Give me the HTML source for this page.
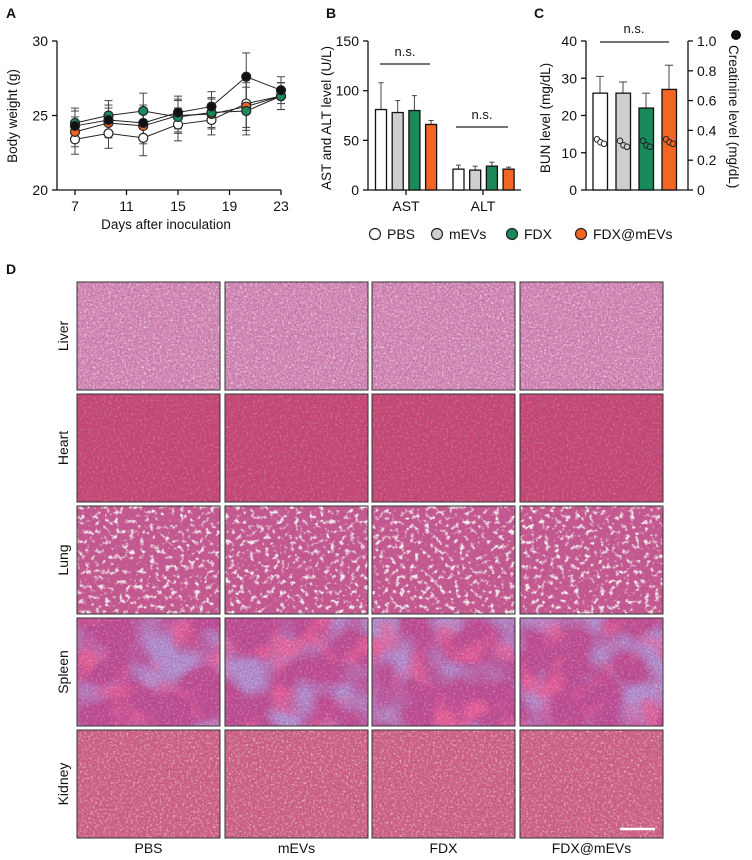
<!DOCTYPE html>
<html><head><meta charset="utf-8"><style>
html,body{margin:0;padding:0;background:#fff;}
svg{display:block;font-family:"Liberation Sans",Arial,sans-serif;}
</style></head><body>
<svg id="fig" width="752" height="860" viewBox="0 0 752 860" xmlns="http://www.w3.org/2000/svg">
<defs>
<filter id="spotsW" x="0" y="0" width="1" height="1" filterUnits="objectBoundingBox">
<feTurbulence type="fractalNoise" baseFrequency="0.45" numOctaves="2" seed="3"/>
<feColorMatrix type="matrix" values="0 0 0 0 1  0 0 0 0 0.95  0 0 0 0 0.95  3 0 0 0 -1.5"/>
</filter>
<filter id="spotsD" x="0" y="0" width="1" height="1" filterUnits="objectBoundingBox">
<feTurbulence type="fractalNoise" baseFrequency="0.6" numOctaves="2" seed="8"/>
<feColorMatrix type="matrix" values="0 0 0 0 0.3  0 0 0 0 0.08  0 0 0 0 0.35  3 0 0 0 -1.4"/>
</filter>
<filter id="lungF" x="0" y="0" width="1" height="1" filterUnits="objectBoundingBox">
<feTurbulence type="fractalNoise" baseFrequency="0.2" numOctaves="2" seed="5"/>
<feColorMatrix type="matrix" values="0 0 0 0 0.97  0 0 0 0 0.92  0 0 0 0 0.88  5 0 0 0 -2.7"/>
</filter>
<filter id="blobF" x="0" y="0" width="1" height="1" filterUnits="objectBoundingBox">
<feTurbulence type="fractalNoise" baseFrequency="0.022" numOctaves="2" seed="11"/>
<feColorMatrix type="matrix" values="0 0 0 0 0.45  0 0 0 0 0.28  0 0 0 0 0.62  4 0 0 0 -1.8"/>
</filter>
<filter id="redF" x="0" y="0" width="1" height="1" filterUnits="objectBoundingBox">
<feTurbulence type="fractalNoise" baseFrequency="0.03" numOctaves="2" seed="21"/>
<feColorMatrix type="matrix" values="0 0 0 0 0.88  0 0 0 0 0.12  0 0 0 0 0.3  4 0 0 0 -2.1"/>
</filter>
</defs>
<g id="root"></g>
</svg>
<script>
// ---- Panel A data ----
const daysA = [7, 9.6, 12.3, 15, 17.6, 20.3, 23];
const blackA = [24.3, 24.7, 24.5, 25.2, 25.6, 27.6, 26.7];
const greenA = [24.5, 25.0, 25.3, 24.9, 25.2, 25.3, 26.3];
const orangeA = [23.9, 24.5, 24.3, 25.0, 25.1, 25.6, 26.3];
const whiteA = [23.4, 23.8, 23.5, 24.4, 24.7, 25.8, 26.3];
const errA = [1.0, 1.0, 1.2, 1.1, 1.0, 1.6, 0.9];
const xTicksA = [7, 11, 15, 19, 23];
const yTicksA = [20, 25, 30];
// ---- Panel B data ----
const groups = ['PBS', 'mEVs', 'FDX', 'FDX@mEVs'];
const astVals = [81, 78, 80, 66];
const astErr = [27, 12, 15, 4];
const altVals = [21, 20, 24, 21];
const altErr = [4, 4, 4, 2];
const yTicksB = [0, 50, 100, 150];
// ---- Panel C data ----
const bunVals = [26, 26, 22, 27];
const bunErr = [4.5, 3, 4, 6.5];
const creat = [[0.34, 0.32, 0.31], [0.33, 0.30, 0.29], [0.33, 0.30, 0.29], [0.34, 0.32, 0.31]];
const yTicksC = [0, 10, 20, 30, 40];
const yTicksC2 = [0, 0.2, 0.4, 0.6, 0.8, 1.0];
const colors = ['#ffffff', '#cfcfcf', '#1b8a5a', '#f26522'];
// ---- Panel D ----
const tissues = ['Liver', 'Heart', 'Lung', 'Spleen', 'Kidney'];

const NS = 'http://www.w3.org/2000/svg';
const root = document.getElementById('root');
function el(tag, attrs, parent) {
  const e = document.createElementNS(NS, tag);
  for (const k in attrs) e.setAttribute(k, attrs[k]);
  (parent || root).appendChild(e);
  return e;
}
function txt(x, y, s, size, anchor, parent, extra) {
  const t = el('text', Object.assign({x: x, y: y, 'font-size': size, 'text-anchor': anchor || 'middle', fill: '#111'}, extra || {}), parent);
  t.textContent = s;
  return t;
}

[['A', 6, 18], ['B', 326, 18], ['C', 534, 18], ['D', 6, 274]].forEach(p => {
  const t = txt(p[1], p[2], p[0], 14, 'start', null, {'font-weight': 'bold'});
  
  
});

// ===== Panel A =====
const gA = el('g', {});


const xA = d => 75 + (d - 7) * (281 - 75) / 16;
const yA = v => 190 - (v - 20) * 14.9;
el('line', {x1: 57, y1: 41, x2: 57, y2: 190, stroke: '#111', 'stroke-width': 1.3}, gA);
el('line', {x1: 57, y1: 190, x2: 281, y2: 190, stroke: '#111', 'stroke-width': 1.3}, gA);
yTicksA.forEach(v => {
  el('line', {x1: 52, y1: yA(v), x2: 57, y2: yA(v), stroke: '#111', 'stroke-width': 1.3}, gA);
  txt(48, yA(v) + 5, String(v), 14, 'end', gA);
});
xTicksA.forEach(v => {
  el('line', {x1: xA(v), y1: 190, x2: xA(v), y2: 195, stroke: '#111', 'stroke-width': 1.3}, gA);
  txt(xA(v), 211, String(v), 14, 'middle', gA);
});
txt(166, 229, 'Days after inoculation', 13.5, 'middle', gA);
const yt = txt(0, 0, 'Body weight (g)', 13.5, 'middle', gA, {transform: 'translate(17,116) rotate(-90)'});


const seriesA = [[whiteA, '#ffffff'], [orangeA, '#f26522'], [greenA, '#1b8a5a'], [blackA, '#111111']];
seriesA.forEach((s, si) => {
  const vals = s[0];
  vals.forEach((v, i) => {
    const x = xA(daysA[i]);
    const e = errA[i];
    el('line', {x1: x, y1: yA(v + e), x2: x, y2: yA(v - e), stroke: '#444', 'stroke-width': 1}, gA);
    el('line', {x1: x - 4, y1: yA(v + e), x2: x + 4, y2: yA(v + e), stroke: '#444', 'stroke-width': 1}, gA);
    el('line', {x1: x - 4, y1: yA(v - e), x2: x + 4, y2: yA(v - e), stroke: '#444', 'stroke-width': 1}, gA);
  });
  const pts = vals.map((v, i) => xA(daysA[i]) + ',' + yA(v)).join(' ');
  el('polyline', {points: pts, fill: 'none', stroke: '#222', 'stroke-width': 1}, gA);
});
seriesA.forEach((s, si) => {
  s[0].forEach((v, i) => {
    const c = el('circle', {cx: xA(daysA[i]), cy: yA(v), r: 4.5, fill: s[1], stroke: '#222', 'stroke-width': 1.2}, gA);
    
    
  });
});

// ===== Panel B =====
const gB = el('g', {});


const yB = v => 190 - v * 149 / 150;
el('line', {x1: 368, y1: 41, x2: 368, y2: 190, stroke: '#111', 'stroke-width': 1.3}, gB);
el('line', {x1: 368, y1: 190, x2: 521, y2: 190, stroke: '#111', 'stroke-width': 1.3}, gB);
yTicksB.forEach(v => {
  el('line', {x1: 363, y1: yB(v), x2: 368, y2: yB(v), stroke: '#111', 'stroke-width': 1.3}, gB);
  txt(359, yB(v) + 5, String(v), 14, 'end', gB);
});
txt(0, 0, 'AST and ALT level (U/L)', 13.5, 'middle', gB, {transform: 'translate(331,118) rotate(-90)'});
function barsB(vals, errs, x0, name) {
  vals.forEach((v, i) => {
    const x = x0 + i * 16.7;
    el('line', {x1: x + 5.5, y1: yB(v), x2: x + 5.5, y2: yB(v + errs[i]), stroke: '#444', 'stroke-width': 1}, gB);
    el('line', {x1: x + 3, y1: yB(v + errs[i]), x2: x + 8, y2: yB(v + errs[i]), stroke: '#444', 'stroke-width': 1}, gB);
    const r = el('rect', {x: x, y: yB(v), width: 11, height: yB(0) - yB(v), fill: colors[i], stroke: '#111', 'stroke-width': 1.3}, gB);
    
    
  });
}
barsB(astVals, astErr, 375.5, 'ast');
barsB(altVals, altErr, 453, 'alt');
el('line', {x1: 406, y1: 190, x2: 406, y2: 195, stroke: '#111', 'stroke-width': 1.3}, gB);
el('line', {x1: 483, y1: 190, x2: 483, y2: 195, stroke: '#111', 'stroke-width': 1.3}, gB);
txt(406, 211, 'AST', 14, 'middle', gB);
txt(483, 211, 'ALT', 14, 'middle', gB);
el('line', {x1: 380, y1: 64, x2: 430, y2: 64, stroke: '#222', 'stroke-width': 1.2}, gB);
txt(405, 56, 'n.s.', 13, 'middle', gB);
el('line', {x1: 456, y1: 127, x2: 508, y2: 127, stroke: '#222', 'stroke-width': 1.2}, gB);
txt(482, 119, 'n.s.', 13, 'middle', gB);

// ===== Panel C =====
const gC = el('g', {});


const yC = v => 190 - v * 149 / 40;
const yC2 = v => 190 - v * 149 / 1.0;
el('line', {x1: 586, y1: 41, x2: 586, y2: 190, stroke: '#111', 'stroke-width': 1.3}, gC);
el('line', {x1: 586, y1: 190, x2: 688, y2: 190, stroke: '#111', 'stroke-width': 1.3}, gC);
el('line', {x1: 688, y1: 41, x2: 688, y2: 190, stroke: '#111', 'stroke-width': 1.3}, gC);
yTicksC.forEach(v => {
  el('line', {x1: 581, y1: yC(v), x2: 586, y2: yC(v), stroke: '#111', 'stroke-width': 1.3}, gC);
  txt(577, yC(v) + 5, String(v), 14, 'end', gC);
});
yTicksC2.forEach(v => {
  el('line', {x1: 688, y1: yC2(v), x2: 693, y2: yC2(v), stroke: '#111', 'stroke-width': 1.3}, gC);
  txt(697, yC2(v) + 5, v === 0 ? '0' : v.toFixed(1), 14, 'start', gC);
});
txt(0, 0, 'BUN level (mg/dL)', 13.5, 'middle', gC, {transform: 'translate(550,118) rotate(-90)'});
el('circle', {cx: 736, cy: 35, r: 5, fill: '#111'}, gC);
txt(0, 0, 'Creatinine level (mg/dL)', 13.5, 'start', gC, {transform: 'translate(729,45) rotate(90)'});
bunVals.forEach((v, i) => {
  const x = 593 + i * 23;
  el('line', {x1: x + 7, y1: yC(v), x2: x + 7, y2: yC(v + bunErr[i]), stroke: '#444', 'stroke-width': 1}, gC);
  el('line', {x1: x + 3, y1: yC(v + bunErr[i]), x2: x + 11, y2: yC(v + bunErr[i]), stroke: '#444', 'stroke-width': 1}, gC);
  const r = el('rect', {x: x, y: yC(v), width: 14.5, height: yC(0) - yC(v), fill: colors[i], stroke: '#111', 'stroke-width': 1.3}, gC);
  
  
  creat[i].forEach((c, j) => {
    const p = el('circle', {cx: x + 4 + j * 3.5, cy: yC2(c), r: 2.8, fill: colors[i], stroke: '#222', 'stroke-width': 1}, gC);
    
    
  });
});
el('line', {x1: 600, y1: 42, x2: 669, y2: 42, stroke: '#222', 'stroke-width': 1.2}, gC);
txt(634, 33, 'n.s.', 13, 'middle', gC);

// ===== Legend =====
const gL = el('g', {});


const legX = [375, 437, 512, 581];
groups.forEach((g, i) => {
  const c = el('circle', {cx: legX[i], cy: 234, r: 5.5, fill: colors[i], stroke: '#222', 'stroke-width': 1.2}, gL);
  
  
  txt(legX[i] + 12, 239, g, 14, 'start', gL);
});

// ===== Panel D =====
const gD = el('g', {});


const colX = [77, 225, 372, 520];
const rowY = [282, 394, 506, 618, 730];
const W = 143, H = 108;
const base = ['#d58ab4', '#c8466f', '#c95a8e', '#bf4a8e', '#d2627f'];
const whiteOp = [0.6, 0.25, 0, 0.3, 0.55];
tissues.forEach((t, r) => {
  colX.forEach((cx, c) => {
    const g = el('g', {}, gD);
    
    
    const y = rowY[r];
    el('rect', {x: cx, y: y, width: W, height: H, fill: base[r]}, g);
    if (r === 3) {
      el('rect', {x: cx, y: y, width: W, height: H, filter: 'url(#blobF)'}, g);
      el('rect', {x: cx, y: y, width: W, height: H, filter: 'url(#redF)', opacity: 0.8}, g);
    }
    if (r === 2) {
      el('rect', {x: cx, y: y, width: W, height: H, filter: 'url(#lungF)'}, g);
    } else {
      el('rect', {x: cx, y: y, width: W, height: H, filter: 'url(#spotsW)', opacity: whiteOp[r]}, g);
    }
    el('rect', {x: cx, y: y, width: W, height: H, filter: 'url(#spotsD)', opacity: 0.6}, g);
    el('rect', {x: cx, y: y, width: W, height: H, fill: 'none', stroke: '#333', 'stroke-width': 1}, g);
  });
  const lab = txt(0, 0, t, 14, 'middle', gD, {transform: 'translate(68,' + (rowY[r] + H / 2) + ') rotate(-90)'});
  
  
});
groups.forEach((g, i) => {
  const lab = txt(colX[i] + W / 2, 853, g, 14, 'middle', gD);
  
  
});
const sb = el('line', {x1: 620, y1: 829, x2: 655, y2: 829, stroke: '#fff', 'stroke-width': 2.5}, gD);


</script>
</body></html>
